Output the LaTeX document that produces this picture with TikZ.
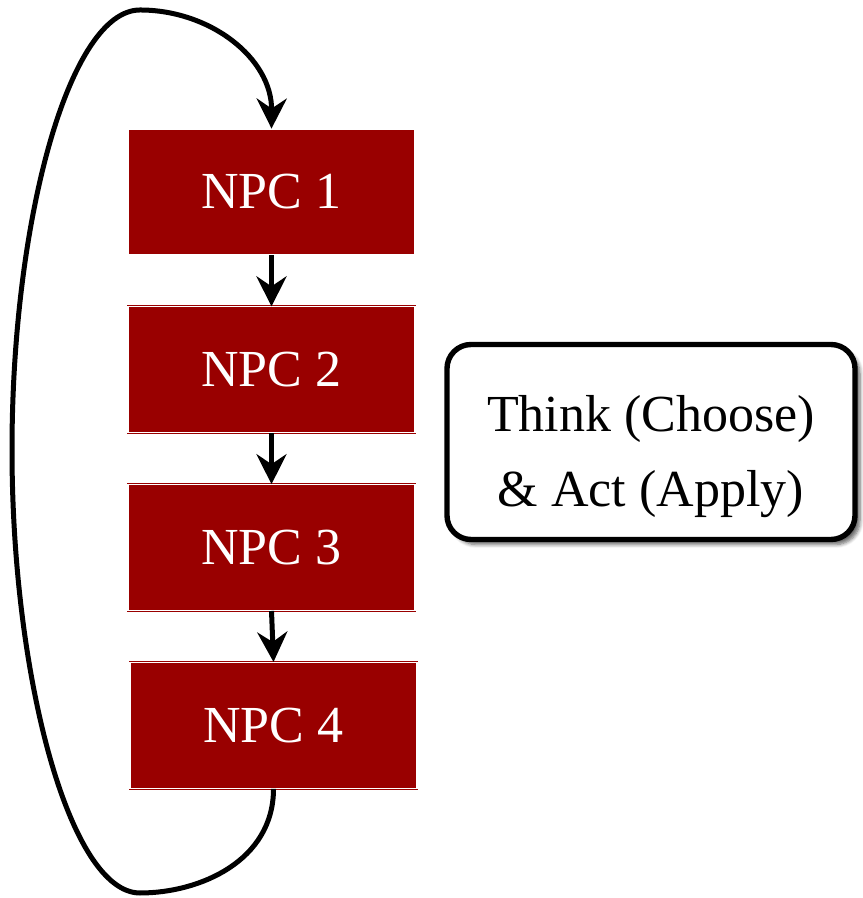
\documentclass[tikz,border=0pt]{standalone}
\usepackage{fontspec}
\setmainfont{Liberation Serif}
\usetikzlibrary{arrows.meta}
\usetikzlibrary{positioning}
\usetikzlibrary{shadows.blur}
\definecolor{npcred}{RGB}{153,0,0}
\tikzset{npcbox/.style = {rectangle, fill=npcred, draw=npcred, double=white,
                          double distance=0.6pt, line width=0.4pt,
                          minimum width=143.5pt, minimum height=63pt,
                          text=white, font=\fontsize{26}{30}\selectfont}}
\tikzset{flow/.style = {line width=2.5pt,
                        -{Stealth[length=15pt, width=15pt, inset=5pt]}}}

\begin{document}
\begin{tikzpicture}[x=1pt, y=1pt]
    \useasboundingbox (0, 0) rectangle (431, 449);

    \node [npcbox] (npc1) at (135.75, 353) {NPC 1};
    \node [npcbox, below=25.5pt of npc1] (npc2) {NPC 2};
    \node [npcbox, below=25.5pt of npc2] (npc3) {NPC 3};
    \node [npcbox, below=25.5pt of npc3, xshift=1pt] (npc4) {NPC 4};

    \node [draw, line width=2.7pt, rounded corners=12pt, fill=white,
           minimum width=204pt, minimum height=97.5pt, align=center,
           font=\fontsize{26}{37.5}\selectfont,
           blur shadow={shadow xshift=2.5pt, shadow yshift=-2.5pt,
                        shadow opacity=60, shadow blur steps=6}]
          (act) at (325.5, 228) {\rule{0pt}{33pt}Think (Choose)\\\& Act (Apply)};

    \draw [flow] (npc1.south) -- (npc2.north);
    \draw [flow] (npc2.south) -- (npc3.north);
    \draw [flow] (npc3.south) -- (npc4.north);

    % back round to the first one
    \coordinate (loopbot) at (70, 2.5);
    \coordinate (loopleft) at (6, 224);
    \coordinate (looptop) at (70, 444);
    \draw [flow] (npc4.south) .. controls +(0, -36) and (100, 2.5) .. (loopbot)
                 .. controls (35, 2.5) and (6, 110) .. (loopleft)
                 .. controls (6, 340) and (35, 444) .. (looptop)
                 .. controls (105, 444) and (136, 420) .. (npc1.north);
  \end{tikzpicture}
\end{document}
